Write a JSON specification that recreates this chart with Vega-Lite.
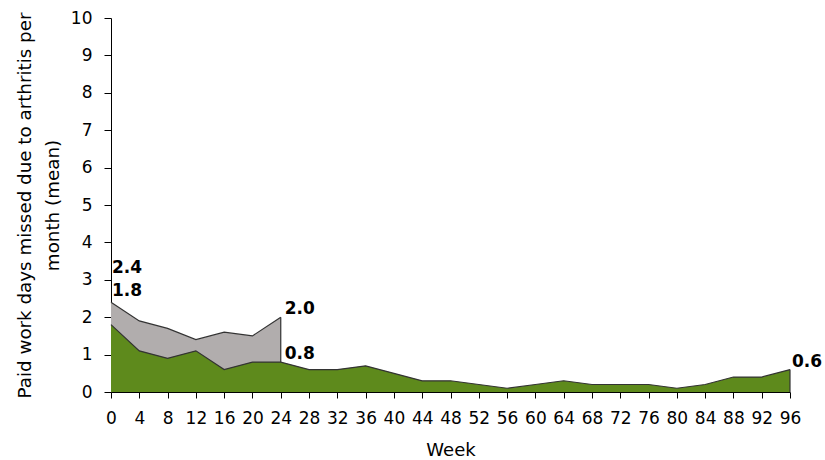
{
  "$schema": "https://vega.github.io/schema/vega-lite/v6.json",
  "width": 679,
  "height": 374,
  "autosize": "none",
  "padding": {"left": 111, "top": 18, "right": 35, "bottom": 68},
  "background": "white",
  "config": {
    "view": {"stroke": null},
    "font": "DejaVu Sans",
    "axis": {
      "grid": false,
      "labelFont": "DejaVu Sans",
      "titleFont": "DejaVu Sans",
      "labelFontSize": 17,
      "titleFontSize": 18,
      "titleFontWeight": "normal",
      "labelColor": "#000000",
      "titleColor": "#000000",
      "domainColor": "#000000",
      "tickColor": "#000000",
      "tickSize": 7
    }
  },
  "datasets": {
    "series": [
      {"week": 0, "group": "placebo", "value": 2.4},
      {"week": 4, "group": "placebo", "value": 1.9},
      {"week": 8, "group": "placebo", "value": 1.7},
      {"week": 12, "group": "placebo", "value": 1.4},
      {"week": 16, "group": "placebo", "value": 1.6},
      {"week": 20, "group": "placebo", "value": 1.5},
      {"week": 24, "group": "placebo", "value": 2.0},
      {"week": 0, "group": "drug", "value": 1.8},
      {"week": 4, "group": "drug", "value": 1.1},
      {"week": 8, "group": "drug", "value": 0.9},
      {"week": 12, "group": "drug", "value": 1.1},
      {"week": 16, "group": "drug", "value": 0.6},
      {"week": 20, "group": "drug", "value": 0.8},
      {"week": 24, "group": "drug", "value": 0.8},
      {"week": 28, "group": "drug", "value": 0.6},
      {"week": 32, "group": "drug", "value": 0.6},
      {"week": 36, "group": "drug", "value": 0.7},
      {"week": 40, "group": "drug", "value": 0.5},
      {"week": 44, "group": "drug", "value": 0.3},
      {"week": 48, "group": "drug", "value": 0.3},
      {"week": 52, "group": "drug", "value": 0.2},
      {"week": 56, "group": "drug", "value": 0.1},
      {"week": 60, "group": "drug", "value": 0.2},
      {"week": 64, "group": "drug", "value": 0.3},
      {"week": 68, "group": "drug", "value": 0.2},
      {"week": 72, "group": "drug", "value": 0.2},
      {"week": 76, "group": "drug", "value": 0.2},
      {"week": 80, "group": "drug", "value": 0.1},
      {"week": 84, "group": "drug", "value": 0.2},
      {"week": 88, "group": "drug", "value": 0.4},
      {"week": 92, "group": "drug", "value": 0.4},
      {"week": 96, "group": "drug", "value": 0.6}
    ],
    "labels": [
      {"week": 0, "value": 2.4, "text": "2.4"},
      {"week": 0, "value": 1.8, "text": "1.8"},
      {"week": 24, "value": 2.0, "text": "2.0"},
      {"week": 24, "value": 0.8, "text": "0.8"},
      {"week": 96, "value": 0.6, "text": "0.6"}
    ]
  },
  "encoding": {
    "x": {
      "field": "week", "type": "quantitative",
      "scale": {"domain": [0, 96], "nice": false, "zero": false},
      "axis": {
        "title": "Week",
        "values": [0,4,8,12,16,20,24,28,32,36,40,44,48,52,56,60,64,68,72,76,80,84,88,92,96],
        "tickSize": 6,
        "labelPadding": 12,
        "titlePadding": 15,
        "labelFlush": false
      }
    },
    "y": {
      "field": "value", "type": "quantitative",
      "scale": {"domain": [0, 10], "nice": false},
      "axis": {
        "title": ["Paid work days missed due to arthritis per", "month (mean)"],
        "values": [0,1,2,3,4,5,6,7,8,9,10],
        "labelPadding": 12,
        "titlePadding": 8,
        "titleFontSize": 18.3,
        "titleLineHeight": 28
      }
    }
  },
  "layer": [
    {
      "data": {"name": "series"},
      "transform": [{"filter": "datum.group === 'placebo'"}],
      "mark": {"type": "area", "color": "#b1adad", "opacity": 1, "line": {"color": "#333333", "strokeWidth": 1.2}}
    },
    {
      "data": {"name": "series"},
      "transform": [{"filter": "datum.group === 'placebo' && datum.week === 24"}],
      "mark": {"type": "rule", "color": "#333333", "strokeWidth": 1.2},
      "encoding": {"y2": {"datum": 0}}
    },
    {
      "data": {"name": "series"},
      "transform": [{"filter": "datum.group === 'drug'"}],
      "mark": {"type": "area", "color": "#5e8a1c", "opacity": 1, "line": {"color": "#333333", "strokeWidth": 1.2}}
    },
    {
      "data": {"name": "series"},
      "transform": [{"filter": "datum.group === 'drug' && datum.week === 96"}],
      "mark": {"type": "rule", "color": "#333333", "strokeWidth": 1.2},
      "encoding": {"y2": {"datum": 0}}
    },
    {
      "data": {"name": "labels"},
      "transform": [{"filter": "datum.week === 0"}],
      "mark": {"type": "text", "align": "left", "baseline": "alphabetic", "dx": 1, "dy": -29, "fontSize": 17, "fontWeight": "bold", "font": "DejaVu Sans", "color": "#000000"},
      "encoding": {"text": {"field": "text"}}
    },
    {
      "data": {"name": "labels"},
      "transform": [{"filter": "datum.week === 24"}],
      "mark": {"type": "text", "align": "left", "baseline": "alphabetic", "dx": 4, "dy": -3, "fontSize": 17, "fontWeight": "bold", "font": "DejaVu Sans", "color": "#000000"},
      "encoding": {"text": {"field": "text"}}
    },
    {
      "data": {"name": "labels"},
      "transform": [{"filter": "datum.week === 96"}],
      "mark": {"type": "text", "align": "left", "baseline": "alphabetic", "dx": 2, "dy": -3, "fontSize": 17, "fontWeight": "bold", "font": "DejaVu Sans", "color": "#000000"},
      "encoding": {"text": {"field": "text"}}
    }
  ]
}
